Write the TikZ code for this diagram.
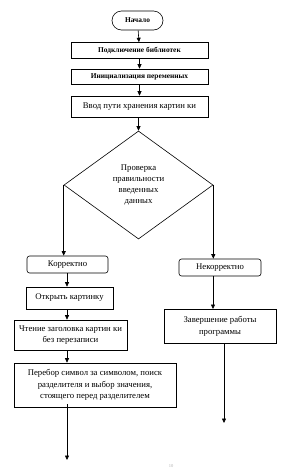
\documentclass[tikz,border=0pt]{standalone}
\usepackage{fontspec}
\setmainfont{Liberation Serif}
\usetikzlibrary{shapes.geometric,arrows.meta}
\begin{document}
\begin{tikzpicture}[x=1pt,y=-1pt,
  box/.style={draw,line width=0.6pt,inner sep=0pt,align=center,font=\fontsize{8.7}{11.3}\selectfont},
  bbox/.style={box,font=\fontsize{7.4}{9}\selectfont\bfseries},
  rbox/.style={box,rounded corners=2.5pt},
  arr/.style={line width=0.6pt,-{Triangle[length=4.5pt,width=4pt]}},
  ln/.style={line width=0.6pt}]
\useasboundingbox (0,0) rectangle (284,469);
\node[bbox,rounded corners=9.5pt,minimum width=51pt,minimum height=19pt] (start) at (137.5,20.5) {Начало};
\node[bbox,minimum width=137pt,minimum height=16pt] (lib) at (139.5,50.5) {Подключение библиотек};
\node[bbox,minimum width=137pt,minimum height=15pt] (init) at (139.5,76.5) {Инициализация переменных};
\node[box,minimum width=137pt,minimum height=21pt] (input) at (139.5,106.5) {Ввод пути хранения картин ки};
\node[box,diamond,minimum width=149pt,minimum height=108pt,text width=62pt] (dec) at (138.5,185) {Проверка\\правильности\\введенных\\данных};
\node[rbox,minimum width=81pt,minimum height=17pt] (ok) at (67.5,264.5) {Корректно};
\node[rbox,minimum width=82pt,minimum height=17pt] (bad) at (220,267.5) {Некорректно};
\node[box,minimum width=87pt,minimum height=22pt] (open) at (69.5,298) {Открыть картинку};
\node[box,minimum width=113pt,minimum height=30pt] (read) at (70.5,335) {Чтение заголовка картин ки\\без перезаписи};
\node[box,minimum width=162pt,minimum height=44pt] (loop) at (95,385) {Перебор символ за символом, поиск\\разделителя и выбор значения,\\стоящего перед разделителем};
\node[box,minimum width=112pt,minimum height=34pt,anchor=north] (fin) at (220,309) {Завершение работы\\программы};
\node[font=\fontsize{4.5}{5}\selectfont,text=gray!60] (pg) at (171,466) {10};
\coordinate (lx) at (67,0);
\coordinate (rx) at (213,0);
\draw[arr] (start) -- (lib);
\draw[arr] (lib) -- (init);
\draw[arr] (init) -- (input);
\draw[arr] (input.south -| dec.north) -- (dec.north);
\draw[arr] (dec.west) -- (dec.west |- ok.north);
\draw[arr] (dec.east) -- (dec.east |- bad.north);
\draw[arr] (lx |- ok.south) -- (lx |- open.north);
\draw[arr] (lx |- open.south) -- (lx |- read.north);
\draw[arr] (lx |- read.south) -- (lx |- loop.north);
\coordinate (lend) at (67,460);
\draw[arr] ([yshift=3pt]lx |- loop.south) -- (lend);
\draw[arr] (rx |- bad.south) -- (rx |- fin.north);
\coordinate (rend) at (224,423);
\draw[ln,-{Triangle[length=4.5pt,width=4pt]}] (rend |- fin.south) -- (rend);
\end{tikzpicture}
\end{document}
